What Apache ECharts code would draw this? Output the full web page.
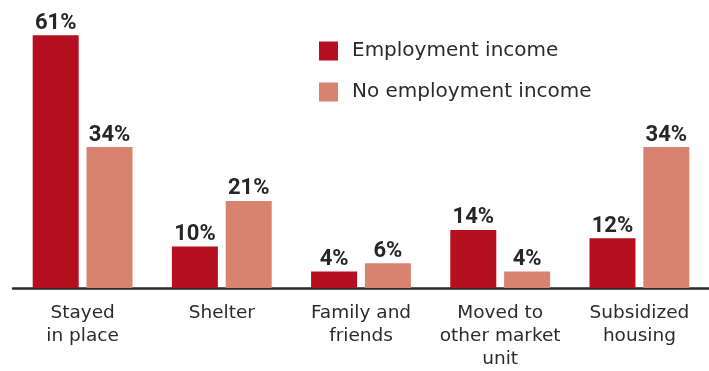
<!DOCTYPE html>
<html>
<head>
<meta charset="utf-8">
<script src="https://cdn.jsdelivr.net/npm/echarts@6/dist/echarts.min.js"></script>
<style>
  html, body { margin: 0; padding: 0; background: #fff; }
  #chart { width: 709px; height: 371px; }
</style>
</head>
<body>
<div id="chart"></div>
<script>
// Housing outcome by employment income status (percent of households)
const categories = ['Stayed\nin place', 'Shelter', 'Family and\nfriends', 'Moved to\nother market\nunit', 'Subsidized\nhousing'];
const employmentIncome = [61, 10, 4, 14, 12];
const noEmploymentIncome = [34, 21, 6, 4, 34];
const seriesNames = ['Employment income', 'No employment income'];

const RED = '#b60f1f';
const SALMON = '#d8836f';

const valueLabel = {
  show: true,
  position: 'top',
  distance: 1,
  formatter: p => p.value + '%',
  fontFamily: 'Roboto',
  fontWeight: 'bold',
  fontSize: 22,
  color: '#262626'
};

const chart = echarts.init(document.getElementById('chart'), null, { renderer: 'canvas' });
chart.setOption({
  animation: false,
  grid: { left: 13, right: -1, top: 0, bottom: 83, containLabel: false },
  legend: {
    orient: 'vertical',
    left: 319,
    top: 41,
    padding: 0,
    itemWidth: 19,
    itemHeight: 19,
    itemGap: 21,
    icon: 'rect',
    selectedMode: false,
    data: seriesNames,
    textStyle: {
      fontFamily: 'DejaVu Sans',
      fontSize: 20,
      color: '#2b2b2b',
      padding: [0, 0, 0, 9]
    }
  },
  xAxis: {
    type: 'category',
    data: categories,
    axisTick: { show: false },
    axisLine: { show: true, lineStyle: { color: '#2a2a2a', width: 2.5 } },
    axisLabel: {
      interval: 0,
      margin: 14,
      fontFamily: 'DejaVu Sans',
      fontSize: 18.5,
      lineHeight: 23,
      color: '#2b2b2b',
      align: 'center'
    }
  },
  yAxis: {
    type: 'value',
    min: 0,
    max: 69.5,
    show: false,
    splitLine: { show: false }
  },
  series: [
    {
      name: seriesNames[0],
      type: 'bar',
      data: employmentIncome,
      barWidth: 46,
      barGap: '17%',
      itemStyle: { color: RED },
      label: valueLabel
    },
    {
      name: seriesNames[1],
      type: 'bar',
      data: noEmploymentIncome,
      barWidth: 46,
      barGap: '17%',
      itemStyle: { color: SALMON },
      label: valueLabel
    }
  ]
});
</script>
</body>
</html>
